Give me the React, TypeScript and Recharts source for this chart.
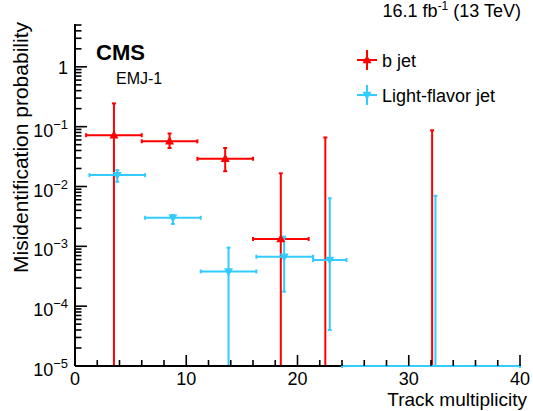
import React from "react";
import { ComposedChart, Scatter, ErrorBar, XAxis, YAxis, Legend } from "recharts";

const RED = "#ff0000";
const BLUE = "#33ccff";
const FONT = "'Liberation Sans', Arial, Helvetica, sans-serif";

// b jet: bin centres, bin edges, measured value and its error band
const bJetX = [3.5, 8.5, 13.5, 18.5];
const bJetXLow = [1, 6, 11, 16];
const bJetXHigh = [6, 11, 16, 21];
const bJetY = [0.072, 0.057, 0.029, 0.00133];
const bJetYLow = [1e-5, 0.044, 0.018, 1e-5];
const bJetYHigh = [0.245, 0.077, 0.044, 0.0166];

// b jet bins with nothing measured, only an upper error
const bJetEmptyX = [22.5, 32.1];
const bJetEmptyYHigh = [0.066, 0.087];

// light-flavor jet
const lightX = [3.8, 8.8, 13.8, 18.8, 22.9];
const lightXLow = [1.3, 6.3, 11.3, 16.3, 21.4];
const lightXHigh = [6.3, 11.3, 16.3, 21.4, 24.4];
const lightY = [0.0155, 0.003, 0.00038, 0.00067, 0.00059];
const lightYLow = [0.012, 0.00237, 1e-5, 0.000175, 0.00004];
const lightYHigh = [0.0188, 0.00335, 0.00095, 0.00145, 0.00635];

// light-flavor bin with nothing measured; its zero-valued range lies on the axis
const lightEmptyX = [32.4];
const lightEmptyXLow = [24];
const lightEmptyXHigh = [40];
const lightEmptyYHigh = [0.007];

const legendOrder = ["b jet", "Light-flavor jet"];

const xTicks = [0, 2, 4, 6, 8, 10, 12, 14, 16, 18, 20, 22, 24, 26, 28, 30, 32, 34, 36, 38, 40];
const yDecades = [-5, -4, -3, -2, -1, 0];
const yMinorSteps = [2, 3, 4, 5, 6, 7, 8, 9];
const Y_MIN = 1e-5;
const Y_MAX = 5.2;

const yTicks = yDecades
  .flatMap((d) => [Math.pow(10, d), ...yMinorSteps.map((k) => k * Math.pow(10, d))])
  .filter((v) => v <= Y_MAX);

const toRows = (xs: number[], xl: number[], xh: number[], ys: number[], yl: number[], yh: number[]) =>
  xs.map((x, i) => ({
    x,
    y: ys[i],
    ex: [x - xl[i], xh[i] - x],
    ey: [ys[i] - yl[i], yh[i] - ys[i]],
  }));

const bJetRows = toRows(bJetX, bJetXLow, bJetXHigh, bJetY, bJetYLow, bJetYHigh);
const bJetEmptyRows = bJetEmptyX.map((x, i) => ({ x, y: Y_MIN, ey: [0, bJetEmptyYHigh[i] - Y_MIN] }));
const lightRows = toRows(lightX, lightXLow, lightXHigh, lightY, lightYLow, lightYHigh);
const lightEmptyRows = lightEmptyX.map((x, i) => ({
  x,
  y: Y_MIN,
  ex: [x - lightEmptyXLow[i], lightEmptyXHigh[i] - x],
  ey: [0, lightEmptyYHigh[i] - Y_MIN],
}));

const isMajorY = (v: number) => Math.abs(Math.log10(v) - Math.round(Math.log10(v))) < 1e-6;
const isMajorX = (v: number) => v % 10 === 0;

const TICK_W = 1.6;

const BottomTick = (p: any) => {
  const v = p.payload.value;
  const major = isMajorX(v);
  return (
    <g>
      <line x1={p.x} x2={p.x} y1={p.y} y2={p.y - (major ? 11 : 6)} stroke="#000" strokeWidth={TICK_W} />
      {major ? (
        <text x={p.x} y={p.y + 19} textAnchor="middle" fontSize={18} fontFamily={FONT} fill="#000">
          {v}
        </text>
      ) : null}
    </g>
  );
};

const TopTick = (p: any) => {
  const major = isMajorX(p.payload.value);
  return <line x1={p.x} x2={p.x} y1={p.y} y2={p.y + (major ? 11 : 6)} stroke="#000" strokeWidth={TICK_W} />;
};

const LeftTick = (p: any) => {
  const v = p.payload.value;
  const major = isMajorY(v);
  const exp = Math.round(Math.log10(v));
  return (
    <g>
      <line x1={p.x} x2={p.x + (major ? 12 : 6.5)} y1={p.y} y2={p.y} stroke="#000" strokeWidth={TICK_W} />
      {major ? (
        exp === 0 ? (
          <text x={p.x - 7} y={p.y + 7} textAnchor="end" fontSize={18} fontFamily={FONT} fill="#000">
            1
          </text>
        ) : (
          <text x={p.x - 7} y={p.y + 10} textAnchor="end" fontSize={18} fontFamily={FONT} fill="#000">
            10
            <tspan dy={-8} fontSize={13}>
              {"\u2212" + Math.abs(exp)}
            </tspan>
          </text>
        )
      ) : null}
    </g>
  );
};

const RightTick = (p: any) => {
  const major = isMajorY(p.payload.value);
  return <line x1={p.x} x2={p.x - (major ? 12 : 6.5)} y1={p.y} y2={p.y} stroke="#000" strokeWidth={TICK_W} />;
};

const TriangleUp = (p: any) => (
  <polygon points={`${p.cx},${p.cy - 5} ${p.cx + 4.5},${p.cy + 3.2} ${p.cx - 4.5},${p.cy + 3.2}`} fill={RED} />
);

const TriangleDown = (p: any) => (
  <polygon points={`${p.cx},${p.cy + 5} ${p.cx + 4.5},${p.cy - 3.2} ${p.cx - 4.5},${p.cy - 3.2}`} fill={BLUE} />
);

const NoMarker = () => <g />;

const LegendContent = (props: any) => {
  const entries = (props.payload || [])
    .filter((e: any) => legendOrder.includes(e.value))
    .sort((a: any, b: any) => legendOrder.indexOf(a.value) - legendOrder.indexOf(b.value));
  return (
    <svg width={175} height={72} style={{ display: "block" }}>
      {entries.map((e: any, i: number) => {
        const cy = 18 + i * 35;
        const Marker = e.value === "b jet" ? TriangleUp : TriangleDown;
        return (
          <g key={e.value}>
            <line x1={2} x2={22} y1={cy} y2={cy} stroke={e.color} strokeWidth={2} />
            <line x1={12} x2={12} y1={cy - 10} y2={cy + 10} stroke={e.color} strokeWidth={2} />
            <Marker cx={12} cy={cy} />
            <text x={27} y={cy + 6.5} fontSize={18} fontFamily={FONT} fill="#000">
              {e.value}
            </text>
          </g>
        );
      })}
    </svg>
  );
};

const axisLine = { stroke: "#000", strokeWidth: 2 };

export default function App() {
  return (
    <div style={{ position: "absolute", left: 0, top: 0, width: 533, height: 411, background: "#fff" }}>
      <ComposedChart width={533} height={411} margin={{ top: 24, right: 13, bottom: 0, left: 0 }}>
        <XAxis
          xAxisId="main"
          dataKey="x"
          type="number"
          domain={[0, 40]}
          ticks={xTicks}
          interval={0}
          height={45}
          tickSize={0}
          tickMargin={0}
          tickLine={false}
          axisLine={axisLine}
          tick={(p: any) => <BottomTick {...p} />}
        />
        <XAxis
          xAxisId="top"
          orientation="top"
          type="number"
          domain={[0, 40]}
          ticks={xTicks}
          interval={0}
          height={0}
          tickSize={0}
          tickMargin={0}
          tickLine={false}
          axisLine={axisLine}
          tick={(p: any) => <TopTick {...p} />}
        />
        <YAxis
          yAxisId="main"
          type="number"
          scale="log"
          domain={[Y_MIN, Y_MAX]}
          ticks={yTicks}
          interval={0}
          width={75}
          tickSize={0}
          tickMargin={0}
          tickLine={false}
          axisLine={axisLine}
          tick={(p: any) => <LeftTick {...p} />}
        />
        <YAxis
          yAxisId="right"
          orientation="right"
          type="number"
          scale="log"
          domain={[Y_MIN, Y_MAX]}
          ticks={yTicks}
          interval={0}
          width={0}
          tickSize={0}
          tickMargin={0}
          tickLine={false}
          axisLine={axisLine}
          tick={(p: any) => <RightTick {...p} />}
        />
        <Legend
          layout="horizontal"
          verticalAlign="middle"
          align="center"
          content={<LegendContent />}
          wrapperStyle={{ left: 355, top: 42, width: 175, height: 72 }}
        />
        <Scatter
          name="b jet"
          xAxisId="main"
          yAxisId="main"
          data={bJetRows}
          dataKey="y"
          fill={RED}
          shape={TriangleUp}
          isAnimationActive={false}
          zIndex={700}
        >
          <ErrorBar dataKey="ex" direction="x" stroke={RED} strokeWidth={2} width={2} isAnimationActive={false} />
          <ErrorBar dataKey="ey" direction="y" stroke={RED} strokeWidth={2} width={2} isAnimationActive={false} />
        </Scatter>
        <Scatter
          name="b jet empty"
          legendType="none"
          xAxisId="main"
          yAxisId="main"
          data={bJetEmptyRows}
          dataKey="y"
          fill={RED}
          shape={NoMarker}
          isAnimationActive={false}
          zIndex={700}
        >
          <ErrorBar dataKey="ey" direction="y" stroke={RED} strokeWidth={2} width={2} isAnimationActive={false} />
        </Scatter>
        <Scatter
          name="Light-flavor jet"
          xAxisId="main"
          yAxisId="main"
          data={lightRows}
          dataKey="y"
          fill={BLUE}
          shape={TriangleDown}
          isAnimationActive={false}
          zIndex={700}
        >
          <ErrorBar dataKey="ex" direction="x" stroke={BLUE} strokeWidth={2} width={2} isAnimationActive={false} />
          <ErrorBar dataKey="ey" direction="y" stroke={BLUE} strokeWidth={2} width={2} isAnimationActive={false} />
        </Scatter>
        <Scatter
          name="Light-flavor jet empty"
          legendType="none"
          xAxisId="main"
          yAxisId="main"
          data={lightEmptyRows}
          dataKey="y"
          fill={BLUE}
          shape={NoMarker}
          isAnimationActive={false}
          zIndex={700}
        >
          <ErrorBar
            dataKey="ex"
            direction="x"
            stroke={BLUE}
            strokeWidth={2}
            width={2}
            isAnimationActive={false}
            zIndex={700}
          />
          <ErrorBar dataKey="ey" direction="y" stroke={BLUE} strokeWidth={2} width={2} isAnimationActive={false} />
        </Scatter>
      </ComposedChart>
      <svg
        width={533}
        height={411}
        style={{ position: "absolute", left: 0, top: 0, pointerEvents: "none" }}
        fontFamily={FONT}
      >
        <text x={521} y={17} textAnchor="end" fontSize={18} fill="#000">
          16.1 fb<tspan dy={-7} fontSize={12}>-1</tspan>
          <tspan dy={7}> (13 TeV)</tspan>
        </text>
        <text x={96} y={59.5} fontSize={22} fontWeight="bold" fill="#000">
          CMS
        </text>
        <text x={116} y={83.5} fontSize={16} fill="#000">
          EMJ-1
        </text>
        <text transform="translate(28,22) rotate(-90)" textAnchor="end" fontSize={21} fill="#000">
          Misidentification probability
        </text>
        <text x={527} y={406} textAnchor="end" fontSize={19} fill="#000">
          Track multiplicity
        </text>
      </svg>
    </div>
  );
}
